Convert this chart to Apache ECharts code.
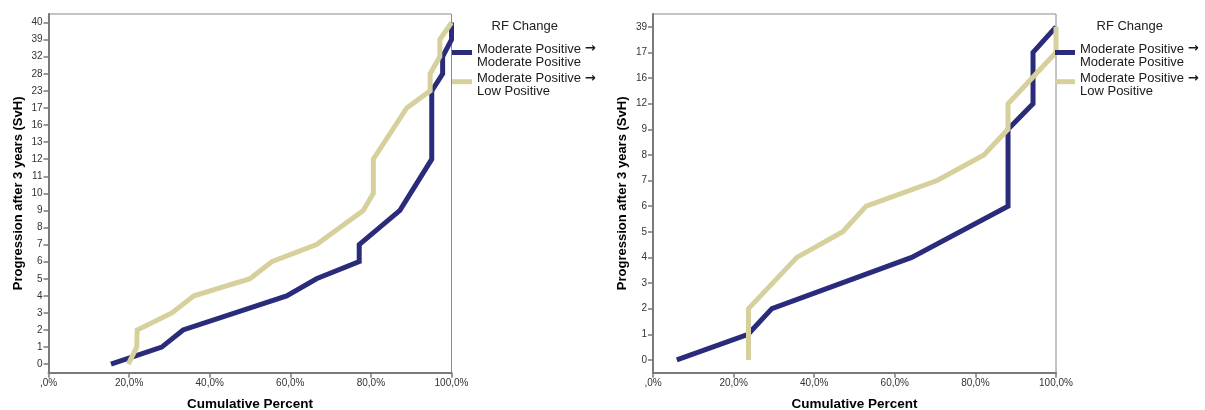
<!DOCTYPE html>
<html>
<head>
<meta charset="utf-8">
<script src="https://cdn.jsdelivr.net/npm/echarts@6/dist/echarts.min.js"></script>
<style>
html,body{margin:0;padding:0;background:#fff;}
#chart{width:1205px;height:410px;}
</style>
</head>
<body>
<div id="chart"></div>
<script>
// Category tick labels (y axes)
const leftCats = ['0','1','2','3','4','5','6','7','8','9','10','11','12','13','16','17','23','28','32','39','40'];
const rightCats = ['0','1','2','3','4','5','6','7','8','9','12','16','17','39'];

// X tick labels
const xTickLabels = [',0%', '20,0%', '40,0%', '60,0%', '80,0%', '100,0%'];

const seriesNames = ['Moderate Positive →\nModerate Positive', 'Moderate Positive →\nLow Positive'];

// Left panel: Moderate -> Moderate
const leftModY = ['0','1','2','4','5','6','7','9','12','23','28','32','39','40'];
const leftModX = [15.5, 28.1, 33.4, 59.1, 66.5, 77.1, 77.1, 87.2, 95.1, 95.1, 97.8, 97.8, 100, 100];
// Left panel: Moderate -> Low
const leftLowY = ['0','1','2','3','4','5','6','7','9','10','12','17','23','28','32','39','40'];
const leftLowX = [19.8, 21.9, 22.0, 30.6, 36.1, 50.0, 55.4, 66.5, 78.1, 80.6, 80.6, 88.9, 94.7, 94.7, 97.1, 97.1, 100];

// Right panel: Moderate -> Moderate
const rightModY = ['0','1','2','4','6','9','12','17','39'];
const rightModX = [5.9, 23.6, 29.5, 64.2, 88.1, 88.1, 94.3, 94.3, 100];
// Right panel: Moderate -> Low
const rightLowY = ['0','2','4','5','6','7','8','9','12','17','39'];
const rightLowX = [23.7, 23.7, 35.7, 47.1, 52.9, 70.5, 82.1, 88.1, 88.1, 100, 100];

const colors = ['#2b2b7b', '#d6d09c'];
const FONT = 'Liberation Sans, Arial, sans-serif';

function pairs(xs, ys, cats) {
  return xs.map((x, i) => [x, cats.indexOf(ys[i])]);
}

function xAxisCfg(gi) {
  return {
    gridIndex: gi, type: 'value', min: 0, max: 100, interval: 20,
    name: 'Cumulative Percent', nameLocation: 'middle', nameGap: 25,
    nameTextStyle: {fontFamily: FONT, fontSize: 13.5, fontWeight: 'bold', color: '#000'},
    axisLine: {show: true, lineStyle: {color: '#7a7a7a', width: 2}},
    axisTick: {show: true, length: 5, lineStyle: {color: '#7a7a7a', width: 1.5}},
    axisLabel: {margin: 6, fontFamily: FONT, fontSize: 10, color: '#333',
      formatter: v => xTickLabels[Math.round(v / 20)]},
    splitLine: {show: false}
  };
}
function yAxisCfg(gi, cats) {
  return {
    gridIndex: gi, type: 'category', data: cats, boundaryGap: true,
    name: 'Progression after 3 years (SvH)', nameLocation: 'middle', nameGap: 24,
    nameTextStyle: {fontFamily: FONT, fontSize: 13, fontWeight: 'bold', color: '#000'},
    axisLine: {show: true, lineStyle: {color: '#7a7a7a', width: 2}},
    axisTick: {show: true, alignWithLabel: true, length: 5, lineStyle: {color: '#7a7a7a', width: 1.5}},
    axisLabel: {margin: 6, fontFamily: FONT, fontSize: 10, color: '#333', interval: 0},
    splitLine: {show: false}
  };
}
function lineSeries(name, gi, data, color) {
  return {
    name: name, type: 'line', xAxisIndex: gi, yAxisIndex: gi,
    data: data, showSymbol: false, symbol: 'none',
    lineStyle: {color: color, width: 5, join: 'miter'},
    itemStyle: {color: color},
    animation: false
  };
}
function legendCfg(left) {
  return {
    left: left, top: 36.5, padding: 0, orient: 'vertical', icon: 'rect', itemWidth: 20, itemHeight: 5,
    itemGap: -2.8, selectedMode: false, data: seriesNames,
    formatter: n => n.replace('→', '{a|→}'),
    textStyle: {fontFamily: FONT, fontSize: 13, lineHeight: 13, color: '#1a1a1a', padding: [6, 0, 0, 0],
      rich: {a: {fontFamily: 'DejaVu Sans', fontSize: 13, lineHeight: 13, fontWeight: 'bold', color: '#1a1a1a'}}}
  };
}

const chart = echarts.init(document.getElementById('chart'), null, {renderer: 'canvas'});
chart.setOption({
  animation: false,
  color: colors,
  title: [
    {text: 'RF Change', left: 491.5, top: 19.5, padding: 0,
     textStyle: {fontFamily: FONT, fontSize: 13, fontWeight: 'normal', color: '#222'}},
    {text: 'RF Change', left: 1096.5, top: 19.5, padding: 0,
     textStyle: {fontFamily: FONT, fontSize: 13, fontWeight: 'normal', color: '#222'}}
  ],
  legend: [legendCfg(452), legendCfg(1055)],
  grid: [
    {left: 48.5, top: 14, width: 403, height: 358.7, show: true, borderColor: '#8a8a8a', borderWidth: 1,
     backgroundColor: 'transparent', containLabel: false, outerBoundsMode: 'none'},
    {left: 653, top: 14, width: 403, height: 358.7, show: true, borderColor: '#8a8a8a', borderWidth: 1,
     backgroundColor: 'transparent', containLabel: false, outerBoundsMode: 'none'}
  ],
  xAxis: [xAxisCfg(0), xAxisCfg(1)],
  yAxis: [yAxisCfg(0, leftCats), yAxisCfg(1, rightCats)],
  series: [
    lineSeries(seriesNames[0], 0, pairs(leftModX, leftModY, leftCats), colors[0]),
    lineSeries(seriesNames[1], 0, pairs(leftLowX, leftLowY, leftCats), colors[1]),
    lineSeries(seriesNames[0], 1, pairs(rightModX, rightModY, rightCats), colors[0]),
    lineSeries(seriesNames[1], 1, pairs(rightLowX, rightLowY, rightCats), colors[1])
  ]
});
</script>
</body>
</html>
